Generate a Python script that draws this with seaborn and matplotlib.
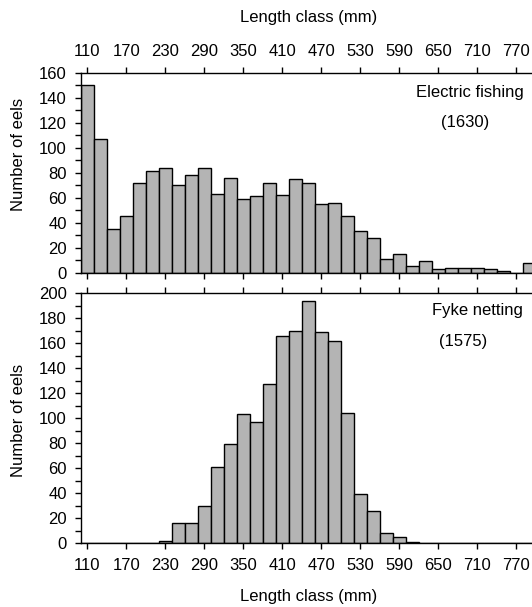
import matplotlib
matplotlib.use("Agg")
import matplotlib.pyplot as plt
import seaborn as sns
from matplotlib.ticker import FixedLocator, MultipleLocator

# 20 mm length classes (class centres)
length_class = list(range(110, 800, 20))
electric_fishing = [150, 107, 35, 45, 72, 81, 84, 70, 78, 84, 63, 76, 59, 61, 72, 62, 75,
                    72, 55, 56, 45, 33, 28, 11, 15, 5, 9, 3, 4, 4, 4, 3, 1, 0, 8]
fyke_netting = [0, 0, 0, 0, 0, 0, 2, 16, 16, 30, 61, 79, 103, 97, 127, 166, 170,
                194, 169, 162, 104, 39, 26, 8, 5, 1, 0, 0, 0, 0, 0, 0, 0, 0, 0]
x_ticks = list(range(110, 780, 60))
panel_names = ["Electric fishing", "Fyke netting"]
panel_totals = ["(1630)", "(1575)"]

sns.set_style("ticks")
plt.rcParams["font.family"] = ["Liberation Sans", "DejaVu Sans"]
plt.rcParams.update({
    "font.size": 12,
    "axes.linewidth": 1.0,
    "text.color": "black",
    "axes.labelcolor": "black",
    "xtick.color": "black",
    "ytick.color": "black",
    "axes.edgecolor": "black",
})

W, H = 532, 607
fig = plt.figure(figsize=(W / 100, H / 100), dpi=100)

# axes placed in pixel terms; the right side runs past the figure edge
left, width = 80.7 / W, 455 / W
ax_top = fig.add_axes([left, (H - 272.7) / H, width, 200 / H])
ax_bot = fig.add_axes([left, (H - 543) / H, width, 250 / H])

bar_kw = dict(binwidth=20, binrange=(100, 800), color="#b4b4b4",
              edgecolor="black", linewidth=1.0, alpha=1)

sns.histplot(x=length_class, weights=electric_fishing, ax=ax_top, **bar_kw)
sns.histplot(x=length_class, weights=fyke_netting, ax=ax_bot, **bar_kw)

for ax, ymax in [(ax_top, 160), (ax_bot, 200)]:
    ax.set_xlim(100, 800)
    ax.set_ylim(0, ymax)
    ax.xaxis.set_major_locator(FixedLocator(x_ticks))
    ax.yaxis.set_major_locator(MultipleLocator(20))
    ax.yaxis.set_minor_locator(MultipleLocator(10))
    ax.tick_params(axis="x", which="both", direction="out", length=4, width=1,
                   top=True, bottom=True, labelsize=12, pad=6.5)
    ax.tick_params(axis="y", which="both", direction="out", length=4, width=1,
                   left=True, right=False, labelsize=12, pad=6)
    ax.set_ylabel("Number of eels", fontsize=12)
    for s in ax.spines.values():
        s.set_visible(True)

ax_top.tick_params(axis="x", labeltop=True, labelbottom=False, pad=6)
ax_top.xaxis.set_label_position("top")
ax_top.set_xlabel("Length class (mm)", fontsize=12, labelpad=16)
ax_top.yaxis.set_label_coords(-0.12, 0.59)

ax_bot.tick_params(axis="x", labeltop=False, labelbottom=True)
ax_bot.set_xlabel("Length class (mm)", fontsize=12, labelpad=12)
ax_bot.yaxis.set_label_coords(-0.12, 0.49)

ax_top.text(781, 144, panel_names[0], ha="right", va="center", fontsize=12)
ax_top.text(692, 120, panel_totals[0], ha="center", va="center", fontsize=12)
ax_bot.text(781, 186, panel_names[1], ha="right", va="center", fontsize=12)
ax_bot.text(688, 161, panel_totals[1], ha="center", va="center", fontsize=12)

fig.savefig("out.png", dpi=100)
